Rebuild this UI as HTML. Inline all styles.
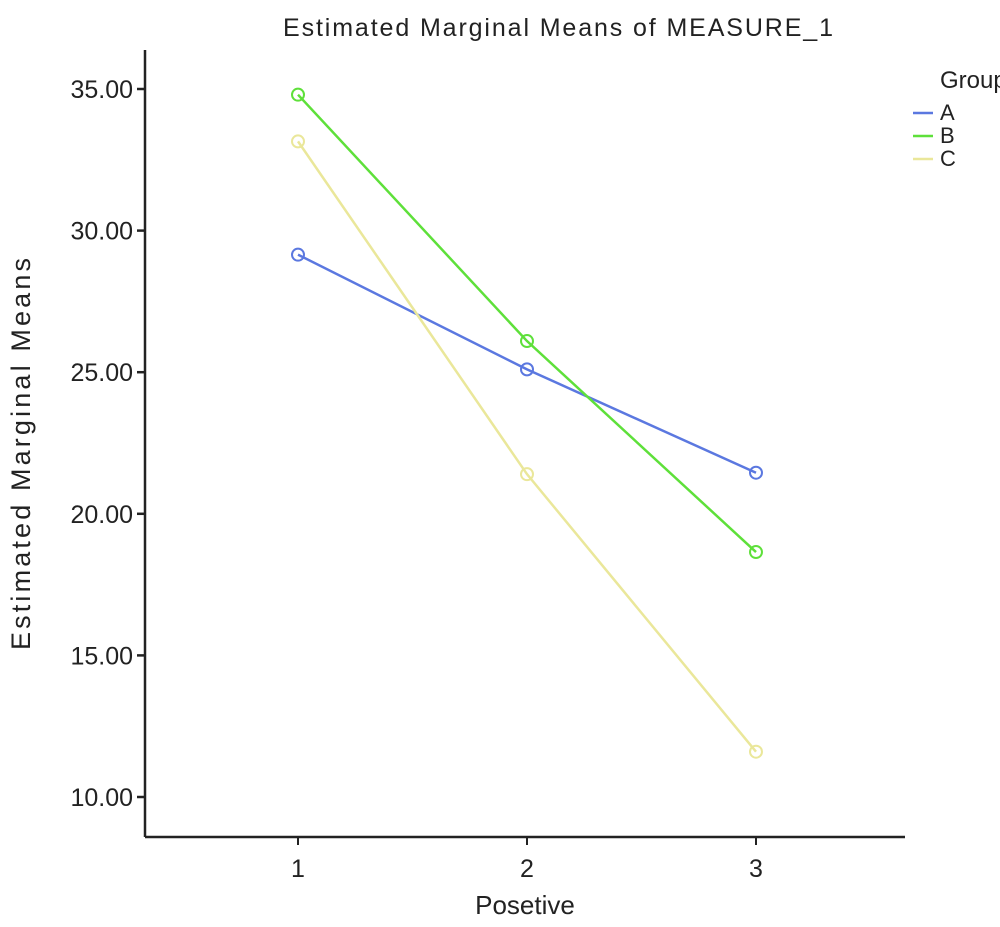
<!DOCTYPE html>
<html><head><meta charset="utf-8"><style>
body{margin:0;background:#fff}
svg text{font-family:"Liberation Sans",sans-serif;fill:#222}
</style></head><body>
<svg width="1000" height="922">
<text x="558" y="36" font-size="25" text-anchor="middle" textLength="550">Estimated Marginal Means of MEASURE_1</text>
<line x1="145" y1="50" x2="145" y2="837" stroke="#222" stroke-width="2.5"/>
<line x1="145" y1="837" x2="905" y2="837" stroke="#222" stroke-width="2.5"/>
<g id="yt"></g><g id="xt"></g><g id="series"></g>
<text transform="translate(30,454) rotate(-90)" font-size="27" text-anchor="middle" textLength="392">Estimated Marginal Means</text>
<text x="525" y="914" font-size="26" text-anchor="middle">Posetive</text>
<g>
<text x="940" y="88" font-size="24">Group</text>
<g id="leg"></g>
</g>
</svg>
<script>
const categories=[1,2,3];
const groups=["A","B","C"];
const seriesA=[29.15,25.1,21.45];
const seriesB=[34.8,26.1,18.65];
const seriesC=[33.15,21.4,11.6];
const yTicks=[10,15,20,25,30,35];
const yTickLabels=["10.00","15.00","20.00","25.00","30.00","35.00"];
const colors=["#5b78e0","#5ee03a","#eae79a"];
const NS="http://www.w3.org/2000/svg";
function y(v){return 797-(v-10)*(797-89)/25;}
function x(c){return 298+(c-1)*229;}
function mk(t,a,p){const e=document.createElementNS(NS,t);for(const k in a)e.setAttribute(k,a[k]);p.appendChild(e);return e;}
const yt=document.getElementById('yt');
yTicks.forEach((v,i)=>{
 const l=mk('line',{x1:137,x2:145,y1:y(v),y2:y(v),stroke:'#222','stroke-width':2.5},yt);
 
 
 const t=mk('text',{x:133,y:y(v)+9,'font-size':25,'text-anchor':'end'},yt);
 t.textContent=yTickLabels[i];
 
 
});
const xt=document.getElementById('xt');
categories.forEach(c=>{
 const l=mk('line',{x1:x(c),x2:x(c),y1:837,y2:845,stroke:'#222','stroke-width':2},xt);
 
 
 const t=mk('text',{x:x(c),y:877,'font-size':25,'text-anchor':'middle'},xt);
 t.textContent=String(c);
 
 
});
const sg=document.getElementById('series');
[seriesA,seriesB,seriesC].forEach((s,i)=>{
 const pl=mk('polyline',{points:s.map((v,j)=>x(categories[j])+','+y(v)).join(' '),fill:'none',stroke:colors[i],'stroke-width':2.5},sg);
 
 
 s.forEach((v,j)=>{
  const c=mk('circle',{cx:x(categories[j]),cy:y(v),r:6,fill:'none',stroke:colors[i],'stroke-width':2},sg);
  
  
 });
});
const lg=document.getElementById('leg');
groups.forEach((g,i)=>{
 const yy=120+i*23;
 const l=mk('line',{x1:913,x2:933,y1:yy-7,y2:yy-7,stroke:colors[i],'stroke-width':2.5},lg);
 
 
 const t=mk('text',{x:940,y:yy,'font-size':22},lg);
 t.textContent=g;
 
 
});
</script>
</body></html>
